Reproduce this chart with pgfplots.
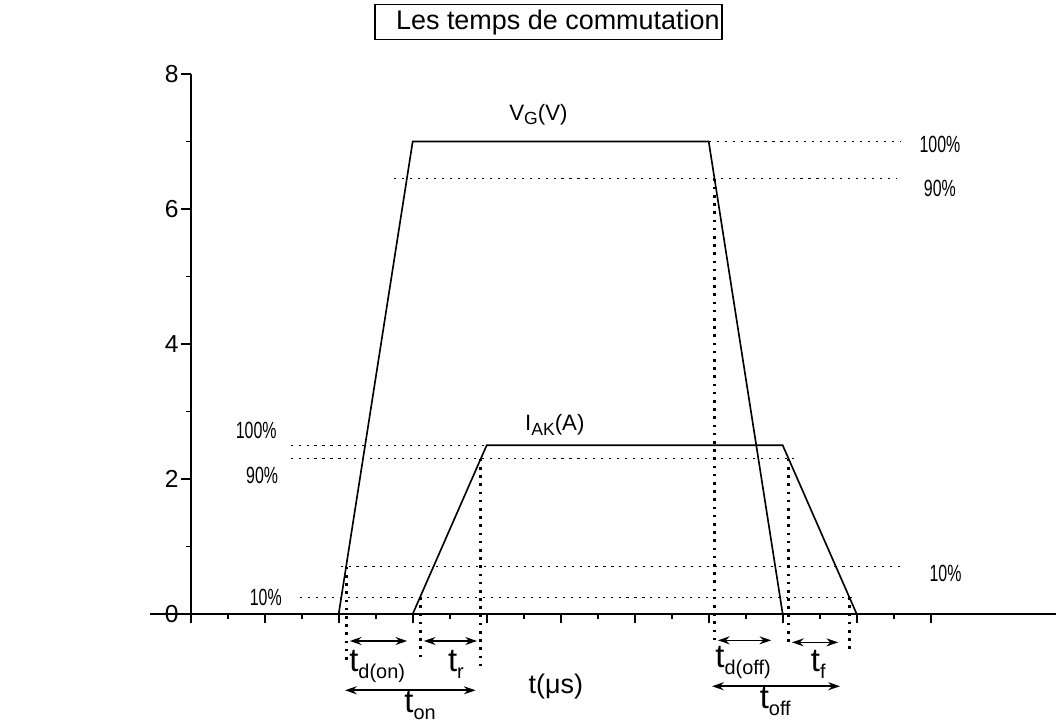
\documentclass[border=0pt]{standalone}
\usepackage{pgfplots}
\pgfplotsset{compat=1.18}
\usepackage{fontspec}
\setmainfont{Liberation Sans}
\usepackage{graphicx}
\usetikzlibrary{arrows.meta}

% condensed percent labels
\newcommand{\pc}[1]{\scalebox{0.68}[1]{\fontsize{10}{11}\selectfont #1}}
% big t with a lowered subscript
\newcommand{\tlab}[1]{{\fontsize{14}{16}\selectfont t}\raisebox{-3pt}{\fontsize{8.5}{10}\selectfont #1}}

\pgfplotsset{
  hdot/.style={black, line width=0.5pt, dash pattern=on 0.9pt off 2.5pt},
  vdot/.style={black, line width=1.2pt, dash pattern=on 1.1pt off 2.4pt},
  arr/.style={black, line width=0.7pt, arrows={Stealth[length=5pt,width=3.4pt]-Stealth[length=5pt,width=3.4pt]}},
  curve/.style={black, line width=0.7pt},
}

\begin{document}
\begin{tikzpicture}
\useasboundingbox (-2.25cm,-1.635cm) rectangle (13.59cm,9.21cm);
\begin{axis}[
  x=0.555cm, y=1.0125cm,
  xmin=-1.1, xmax=23.4, ymin=0, ymax=8,
  axis lines=middle,
  axis line style={-, line width=1pt},
  clip=false,
  xtick={0,2,...,20}, minor x tick num=1, xticklabels={},
  ytick={0,2,4,6,8}, minor y tick num=1,
  tick align=outside,
  major tick length=4pt, minor tick length=2.2pt,
  tick style={black, line width=0.8pt},
  hide obscured x ticks=false, hide obscured y ticks=false,
  yticklabel style={font=\fontsize{10.5}{12}\selectfont, inner sep=1pt},
  /pgf/number format/assume math mode=true,
]
% signals
\addplot[curve] coordinates {(4,0) (6,7) (14,7) (16,0)};
\addplot[curve] coordinates {(6,0) (8,2.5) (16,2.5) (18,0)};

% level lines
\addplot[hdot] coordinates {(14,7) (19.2,7)};
\addplot[hdot] coordinates {(5.5,6.45) (19.1,6.45)};
\addplot[hdot] coordinates {(2.7,2.5) (8,2.5)};
\addplot[hdot] coordinates {(2.7,2.3) (16.3,2.3)};
\addplot[hdot] coordinates {(4.05,0.7) (19.2,0.7)};
\addplot[hdot] coordinates {(2.95,0.25) (17.95,0.25)};

% crossing lines
\addplot[vdot] coordinates {(4.2,0.7) (4.2,-0.72)};
\addplot[vdot] coordinates {(6.2,0.25) (6.2,-0.66)};
\addplot[vdot] coordinates {(7.84,2.3) (7.84,-0.83)};
\addplot[vdot] coordinates {(14.16,6.45) (14.16,-0.47)};
\addplot[vdot] coordinates {(16.16,2.3) (16.16,-0.47)};
\addplot[vdot] coordinates {(17.8,0.25) (17.8,-0.53)};

% time intervals
\addplot[arr] coordinates {(4.3,-0.4) (5.85,-0.4)};
\addplot[arr] coordinates {(6.3,-0.4) (7.74,-0.4)};
\addplot[arr] coordinates {(4.17,-1.13) (7.7,-1.13)};
\addplot[arr] coordinates {(14.25,-0.39) (15.69,-0.39)};
\addplot[arr] coordinates {(16.25,-0.42) (17.5,-0.42)};
\addplot[arr] coordinates {(14.09,-1.07) (17.55,-1.07)};

\node[font=\fontsize{11.5}{13}\selectfont, draw, line width=0.6pt, inner xsep=1pt,
      inner ysep=1.7pt, text height=9pt, text depth=2.5pt]
  at (axis cs:9.67,8.77) {\hspace{8pt}Les temps de commutation};

\node[font=\fontsize{9.5}{11}\selectfont] at (axis cs:9.4,7.4)
  {V\raisebox{-2pt}{\fontsize{7.5}{8}\selectfont G}(V)};
\node[font=\fontsize{9.5}{11}\selectfont] at (axis cs:9.84,2.8)
  {I\raisebox{-2pt}{\fontsize{7.5}{8}\selectfont AK}(A)};

\node at (axis cs:1.77,2.72) {\pc{100\%}};
\node at (axis cs:1.93,2.06) {\pc{90\%}};
\node at (axis cs:2.03,0.25) {\pc{10\%}};
\node at (axis cs:20.25,6.95) {\pc{100\%}};
\node at (axis cs:20.25,6.3) {\pc{90\%}};
\node at (axis cs:20.4,0.6) {\pc{10\%}};

\node at (axis cs:5.04,-0.78) {\tlab{d(on)}};
\node at (axis cs:7.17,-0.75) {\tlab{r}};
\node at (axis cs:6.2,-1.35) {\tlab{on}};
\node at (axis cs:14.93,-0.72) {\tlab{d(off)}};
\node at (axis cs:16.96,-0.75) {\tlab{f}};
\node at (axis cs:15.8,-1.3) {\tlab{off}};
\node[font=\fontsize{11.5}{13}\selectfont] at (axis cs:9.87,-1.07) {t(μs)};
\end{axis}
\end{tikzpicture}
\end{document}
